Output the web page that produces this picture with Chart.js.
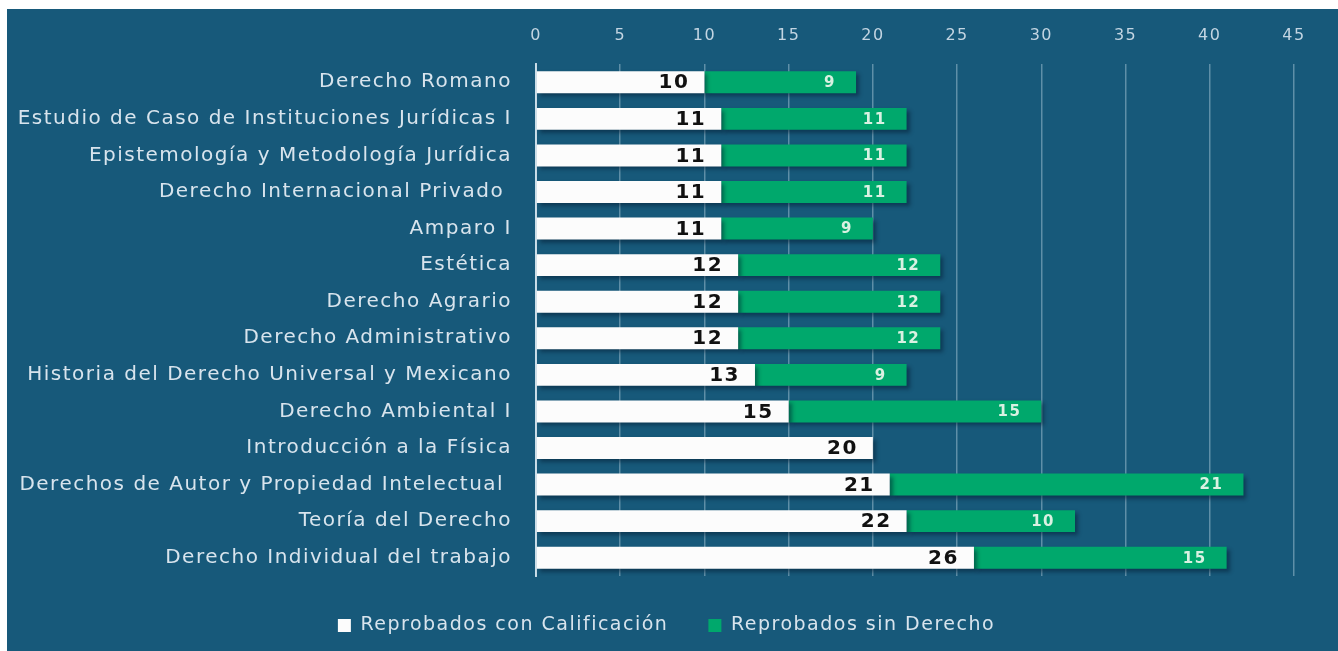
<!DOCTYPE html>
<html>
<head>
    <title>Reprobados por asignatura</title>
    <style>
        body {
            margin: 0;
            background: #ffffff;
        }
        .chart-container {
            position: absolute;
            left: 7px;
            top: 9px;
            width: 1331px;
            height: 642px;
            background-color: #17597a;
        }
    </style>
    <script src="https://cdn.jsdelivr.net/npm/chart.js"></script>
</head>
<body>
    <div class="chart-container">
        <canvas id="reprobadosChart"></canvas>
    </div>

    <script>
        const asignaturas = [
            'Derecho Romano',
            'Estudio de Caso de Instituciones Jurídicas I',
            'Epistemología y Metodología Jurídica',
            'Derecho Internacional Privado ',
            'Amparo I',
            'Estética',
            'Derecho Agrario',
            'Derecho Administrativo',
            'Historia del Derecho Universal y Mexicano',
            'Derecho Ambiental I',
            'Introducción a la Física',
            'Derechos de Autor y Propiedad Intelectual ',
            'Teoría del Derecho',
            'Derecho Individual del trabajo'
        ];
        const conCalificacion = [10, 11, 11, 11, 11, 12, 12, 12, 13, 15, 20, 21, 22, 26];
        const sinDerecho = [9, 11, 11, 11, 9, 12, 12, 12, 9, 15, 0, 21, 10, 15];
        const xTicks = [0, 5, 10, 15, 20, 25, 30, 35, 40, 45];

        const FONT = "'DejaVu Sans', sans-serif";
        const SPACING = '1.5px';

        // canvas letter spacing, reset whenever the canvas is resized
        const spacingPlugin = {
            id: 'spacing',
            beforeLayout(chart) { chart.ctx.letterSpacing = SPACING; },
            afterLayout(chart) {
                // nudge the legend a bit to the right, like the original
                chart.legend.left += 12;
                chart.legend.right += 12;
            },
            beforeDraw(chart) { chart.ctx.letterSpacing = SPACING; }
        };

        // dark drop shadow under the bars
        const shadowPlugin = {
            id: 'barShadow',
            beforeDatasetsDraw(chart) {
                const ctx = chart.ctx;
                ctx.save();
                ctx.shadowColor = 'rgba(0, 20, 40, 0.45)';
                ctx.shadowBlur = 4;
                ctx.shadowOffsetX = 3;
                ctx.shadowOffsetY = 3;
            },
            afterDatasetsDraw(chart) {
                chart.ctx.restore();
            }
        };

        // value labels at the inner end of each bar
        const valueLabels = {
            id: 'valueLabels',
            afterDatasetsDraw(chart) {
                const ctx = chart.ctx;
                ctx.save();
                ctx.letterSpacing = SPACING;
                ctx.textAlign = 'right';
                ctx.textBaseline = 'middle';
                chart.data.datasets.forEach((ds, i) => {
                    const meta = chart.getDatasetMeta(i);
                    meta.data.forEach((bar, j) => {
                        const v = ds.data[j];
                        if (!v) return;
                        if (i === 0) {
                            ctx.font = "bold 20px " + FONT;
                            ctx.fillStyle = '#111111';
                            ctx.fillText(v, bar.x - 15, bar.y + 1);
                        } else {
                            ctx.font = "bold 15px " + FONT;
                            ctx.fillStyle = '#d9f1e2';
                            ctx.fillText(v, bar.x - 20, bar.y + 1);
                        }
                    });
                });
                ctx.restore();
            }
        };

        const ctx = document.getElementById('reprobadosChart').getContext('2d');
        new Chart(ctx, {
            type: 'bar',
            data: {
                labels: asignaturas,
                datasets: [{
                    label: 'Reprobados con Calificación',
                    data: conCalificacion,
                    backgroundColor: '#fcfcfc',
                    borderWidth: 0,
                    barPercentage: 0.75,
                    categoryPercentage: 0.8
                }, {
                    label: 'Reprobados sin Derecho',
                    data: sinDerecho,
                    backgroundColor: '#00a86c',
                    borderWidth: 0,
                    barPercentage: 0.75,
                    categoryPercentage: 0.8
                }]
            },
            options: {
                indexAxis: 'y',
                responsive: true,
                maintainAspectRatio: false,
                animation: false,
                layout: {
                    padding: { left: 8, right: 44, top: 0, bottom: 6 }
                },
                scales: {
                    x: {
                        position: 'top',
                        stacked: true,
                        min: 0,
                        max: 45,
                        afterFit(scale) { scale.height = 55; },
                        afterBuildTicks(scale) {
                            scale.ticks = xTicks.map(v => ({ value: v }));
                        },
                        ticks: {
                            color: '#c3d5e2',
                            font: { family: FONT, size: 16 },
                            padding: 19
                        },
                        grid: {
                            color: 'rgba(185, 208, 224, 0.45)',
                            lineWidth: 1.5,
                            drawTicks: false
                        },
                        border: { display: false }
                    },
                    y: {
                        stacked: true,
                        afterFit(scale) { scale.width = 521; },
                        ticks: {
                            color: '#d8e4ed',
                            font: { family: FONT, size: 20 },
                            padding: 24
                        },
                        grid: { display: false, drawTicks: false },
                        border: {
                            display: true,
                            color: 'rgba(225, 236, 244, 0.85)',
                            width: 2
                        }
                    }
                },
                plugins: {
                    legend: {
                        position: 'bottom',
                        labels: {
                            color: '#d8e4ed',
                            font: { family: FONT, size: 19 },
                            boxWidth: 13,
                            boxHeight: 13,
                            padding: 40
                        }
                    },
                    tooltip: { enabled: false }
                }
            },
            plugins: [spacingPlugin, shadowPlugin, valueLabels]
        });
    </script>
</body>
</html>
